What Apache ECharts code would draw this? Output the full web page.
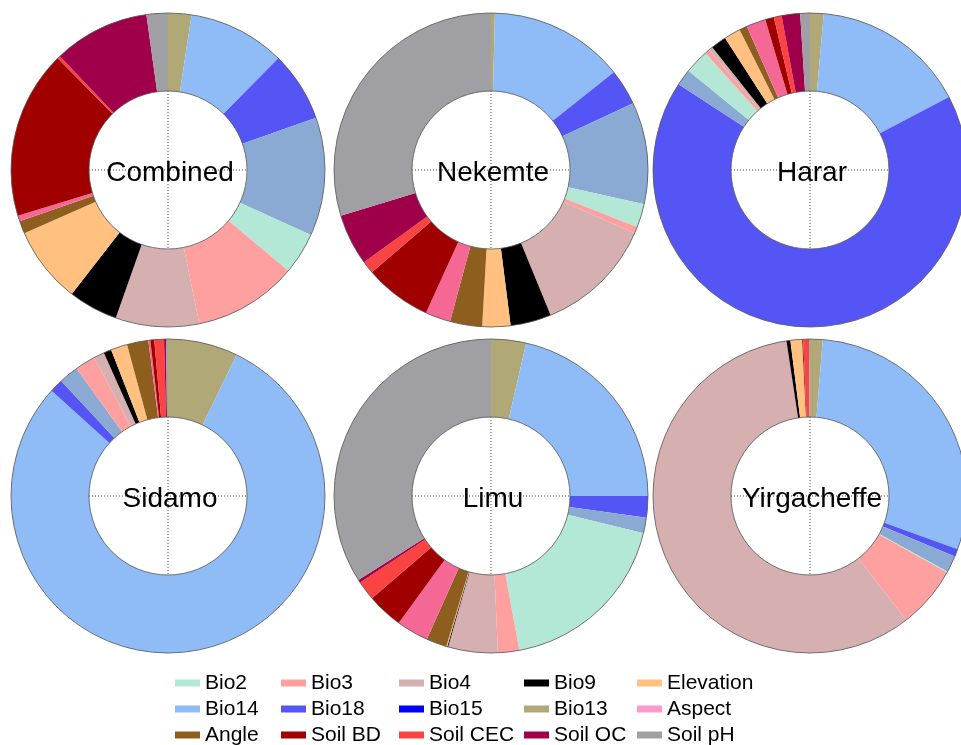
<!DOCTYPE html>
<html>
<head>
<meta charset="utf-8">
<script src="https://cdn.jsdelivr.net/npm/echarts@6/dist/echarts.min.js"></script>
<style>html,body{margin:0;padding:0;background:#fff;}#c{width:961px;height:745px;}</style>
</head>
<body>
<div id="c"></div>
<script>
// slice order (clockwise from 12 o'clock)
const names = ['Bio13','Bio14','Bio18','Bio15','Bio2','Bio3','Bio4','Bio9','Elevation','Angle','Aspect','Soil BD','Soil CEC','Soil OC','Soil pH'];
const sliceColors = ['#B0A876','#8FBCF7','#5555F5','#8AA9D3','#B3E8D6','#FFA0A0','#D6B0B1','#000000','#FFC080','#8E5E1E','#F56896','#A00000','#FA4444','#A0004A','#A09FA4'];

// importance (%) per panel, in slice order
const combined    = [2.4, 10.0, 7.2, 12.2, 4.3, 10.7, 8.6, 5.1, 7.9, 1.3, 0.6, 17.3, 0.3, 9.9, 2.2];
const nekemte     = [0.4, 13.9, 3.7, 10.5, 2.4, 0.7, 12.2, 4.2, 2.9, 3.3, 2.6, 6.9, 1.3, 5.3, 29.7];
const harar       = [1.4, 15.9, 66.9, 1.7, 2.5, 0.5, 0.4, 1.6, 1.7, 0.8, 2.0, 0.9, 0.8, 1.9, 1.0];
const sidamo      = [7.2, 79.5, 1.4, 2.0, 0.0, 2.1, 1.1, 0.8, 1.7, 2.2, 0.2, 0.4, 1.0, 0.2, 0.2];
const limu        = [3.6, 21.4, 2.2, 1.6, 18.3, 2.2, 5.1, 0.1, 0.1, 2.1, 3.3, 3.7, 2.0, 0.3, 34.0];
const yirgacheffe = [1.3, 29.2, 0.8, 1.7, 0.1, 6.4, 58.1, 0.4, 1.2, 0.0, 0.0, 0.1, 0.6, 0.0, 0.1];

const panelTitles = ['Combined','Nekemte','Harar','Sidamo','Limu','Yirgacheffe'];
const panelValues = [combined, nekemte, harar, sidamo, limu, yirgacheffe];

// legend layout (columns, top to bottom)
const legendColumns = [
  ['Bio2','Bio14','Angle'],
  ['Bio3','Bio18','Soil BD'],
  ['Bio4','Bio15','Soil CEC'],
  ['Bio9','Bio13','Soil OC'],
  ['Elevation','Aspect','Soil pH']
];
const legendOverrides = {'Bio15':'#0000FF','Aspect':'#FF99CC'};

// layout
const colX = [168, 491, 810];
const rowY = [170, 496];
const rIn = 79, rOut = 157;
const legendLeft = [175, 281, 399, 524, 637];
const legendTop = [672, 698, 724];
const FONT = '"Liberation Sans", Arial, sans-serif';

const series = [];
const graphic = [];
panelValues.forEach((vals, i) => {
  const cx = colX[i % 3], cy = rowY[Math.floor(i / 3)];
  series.push({
    type: 'pie',
    name: panelTitles[i],
    center: [cx, cy],
    radius: [rIn, rOut],
    startAngle: 90,
    clockwise: true,
    avoidLabelOverlap: false,
    label: {show: false},
    labelLine: {show: false},
    emphasis: {disabled: true},
    itemStyle: {borderWidth: 0},
    data: names.map((n, k) => ({name: n, value: vals[k], itemStyle: {color: sliceColors[k]}}))
  });
  graphic.push({type: 'circle', z: 100, silent: true, shape: {cx: cx, cy: cy, r: rOut}, style: {fill: 'none', stroke: '#555', lineWidth: 0.8}});
  graphic.push({type: 'circle', z: 100, silent: true, shape: {cx: cx, cy: cy, r: rIn}, style: {fill: 'none', stroke: '#555', lineWidth: 0.8}});
  graphic.push({type: 'line', z: 100, silent: true, shape: {x1: cx - rIn, y1: cy, x2: cx + rIn, y2: cy}, style: {stroke: '#444', lineWidth: 1, lineDash: [1, 2]}});
  graphic.push({type: 'line', z: 100, silent: true, shape: {x1: cx, y1: cy - rIn, x2: cx, y2: cy + rIn}, style: {stroke: '#444', lineWidth: 1, lineDash: [1, 2]}});
  graphic.push({type: 'text', z: 101, silent: true, x: cx + 2, y: cy + 3,
    style: {text: panelTitles[i], font: '28px ' + FONT, fill: '#000', align: 'center', verticalAlign: 'middle', textAlign: 'center', textVerticalAlign: 'middle'}});
});

const legend = [];
legendColumns.forEach((col, j) => {
  col.forEach((n, r) => {
    legend.push({
      orient: 'horizontal',
      left: legendLeft[j],
      top: legendTop[r],
      padding: 0,
      icon: 'rect',
      itemWidth: 25,
      itemHeight: 7,
      selectedMode: false,
      textStyle: {fontSize: 21, lineHeight: 22, fontFamily: FONT, color: '#000'},
      data: [legendOverrides[n] ? {name: n, itemStyle: {color: legendOverrides[n]}} : n]
    });
  });
});

const chart = echarts.init(document.getElementById('c'), null, {renderer: 'canvas'});
chart.setOption({
  animation: false,
  backgroundColor: '#fff',
  legend: legend,
  series: series,
  graphic: graphic
});
</script>
</body>
</html>
